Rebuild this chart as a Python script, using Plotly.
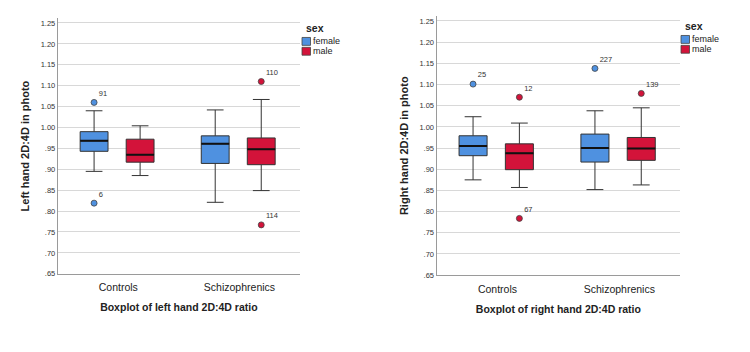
import plotly.graph_objects as go

categories = ["Controls", "Schizophrenics"]
sexes = ["female", "male"]
colors = {"female": "#4f91e0", "male": "#d3133a"}

# Left hand box statistics (Controls, Schizophrenics)
left_female_lower = [0.895, 0.821]
left_female_q1 = [0.943, 0.914]
left_female_median = [0.968, 0.961]
left_female_q3 = [0.990, 0.980]
left_female_upper = [1.040, 1.042]
left_male_lower = [0.885, 0.849]
left_male_q1 = [0.917, 0.911]
left_male_median = [0.935, 0.948]
left_male_q3 = [0.972, 0.975]
left_male_upper = [1.004, 1.067]

# Right hand box statistics
right_female_lower = [0.875, 0.852]
right_female_q1 = [0.932, 0.917]
right_female_median = [0.955, 0.950]
right_female_q3 = [0.979, 0.983]
right_female_upper = [1.024, 1.038]
right_male_lower = [0.857, 0.863]
right_male_q1 = [0.899, 0.921]
right_male_median = [0.938, 0.949]
right_male_q3 = [0.960, 0.975]
right_male_upper = [1.009, 1.045]

# Outliers
left_out_cat = ["Controls", "Controls", "Schizophrenics", "Schizophrenics"]
left_out_sex = ["female", "female", "male", "male"]
left_out_value = [1.060, 0.819, 1.110, 0.767]
left_out_id = ["91", "6", "110", "114"]

right_out_cat = ["Controls", "Schizophrenics", "Controls", "Controls", "Schizophrenics"]
right_out_sex = ["female", "female", "male", "male", "male"]
right_out_value = [1.101, 1.138, 1.070, 0.784, 1.079]
right_out_id = ["25", "227", "12", "67", "139"]

tick_vals = [0.65, 0.70, 0.75, 0.80, 0.85, 0.90, 0.95, 1.00, 1.05, 1.10, 1.15, 1.20, 1.25]
tick_text = [".65", ".70", ".75", ".80", ".85", ".90", ".95", "1.00", "1.05", "1.10", "1.15", "1.20", "1.25"]

offsets = {"female": -0.2, "male": 0.18}
box_w = 0.23

stats = {
    ("left", "female"): (left_female_lower, left_female_q1, left_female_median, left_female_q3, left_female_upper),
    ("left", "male"): (left_male_lower, left_male_q1, left_male_median, left_male_q3, left_male_upper),
    ("right", "female"): (right_female_lower, right_female_q1, right_female_median, right_female_q3, right_female_upper),
    ("right", "male"): (right_male_lower, right_male_q1, right_male_median, right_male_q3, right_male_upper),
}
outs = {
    "left": (left_out_cat, left_out_sex, left_out_value, left_out_id),
    "right": (right_out_cat, right_out_sex, right_out_value, right_out_id),
}

fig = go.Figure()
axes = {"left": ("x", "y"), "right": ("x2", "y2")}
for hand in ["left", "right"]:
    xa, ya = axes[hand]
    for sex in sexes:
        lo, q1, med, q3, up = stats[(hand, sex)]
        xs = [i + offsets[sex] for i in range(len(categories))]
        fig.add_trace(go.Box(
            x=xs, q1=q1, median=med, q3=q3, lowerfence=lo, upperfence=up,
            width=box_w, whiskerwidth=0.6, fillcolor=colors[sex],
            line=dict(color="#333333", width=1), name=sex,
            xaxis=xa, yaxis=ya, showlegend=False, hoverinfo="skip",
        ))
        # thicker median lines
        mx, my = [], []
        for i, m in enumerate(med):
            mx += [xs[i] - box_w / 2, xs[i] + box_w / 2, None]
            my += [m, m, None]
        fig.add_trace(go.Scatter(x=mx, y=my, mode="lines", line=dict(color="#111111", width=2),
                                 xaxis=xa, yaxis=ya, showlegend=False, hoverinfo="skip"))
    oc, osx, ov, oid = outs[hand]
    for sex in sexes:
        idx = [k for k in range(len(ov)) if osx[k] == sex]
        fig.add_trace(go.Scatter(
            x=[categories.index(oc[k]) + offsets[sex] for k in idx],
            y=[ov[k] for k in idx], text=[oid[k] for k in idx],
            mode="markers+text", textposition="top right",
            textfont=dict(size=7.5, color="#333333"),
            marker=dict(size=6, color=colors[sex], line=dict(color="#444444", width=0.8)),
            xaxis=xa, yaxis=ya, showlegend=False, hoverinfo="skip",
        ))

# Legends (one per panel), drawn in paper pixels
W, H = 750, 352
legend_spec = [(302, 28, 38), (681, 26, 36)]  # swatch-left x, title centre y, first swatch top y
for lx, ty, sy in legend_spec:
    fig.add_annotation(x=(lx + 2) / W, y=1 - ty / H, xref="paper", yref="paper", text="<b>sex</b>",
                       showarrow=False, xanchor="left", yanchor="middle",
                       font=dict(size=10.5, color="#222"))
    for j, sex in enumerate(sexes):
        top = sy + j * 10
        fig.add_shape(type="rect", xref="paper", yref="paper",
                      x0=lx / W, x1=(lx + 8.5) / W, y0=1 - top / H, y1=1 - (top + 8) / H,
                      fillcolor=colors[sex], line=dict(color="#444444", width=0.8))
        fig.add_annotation(x=(lx + 9) / W, y=1 - (top + 4) / H, xref="paper", yref="paper", text=sex,
                           showarrow=False, xanchor="left", yanchor="middle",
                           font=dict(size=9, color="#222"))

font = "Liberation Sans, Arial, sans-serif"
common_x = dict(range=[-0.5, 1.5], tickvals=[0, 1], ticktext=categories, showgrid=False,
                zeroline=False, showline=True, linecolor="#9a9a9a", ticks="",
                ticklabelstandoff=4, tickfont=dict(size=10.5, color="#222222"))
common_y = dict(range=[0.65, 1.261], tickvals=tick_vals, ticktext=tick_text, showgrid=True,
                gridcolor="#d8d8d8", zeroline=False, showline=True, linecolor="#9a9a9a",
                ticks="", tickfont=dict(size=7.5, color="#333333"))

fig.update_layout(
    width=W, height=H, margin=dict(l=0, r=0, t=0, b=0),
    paper_bgcolor="white", plot_bgcolor="white", font=dict(family=font),
    showlegend=False,
    xaxis=dict(domain=[0.077, 0.4], anchor="y",
               title=dict(text="<b>Boxplot of left hand 2D:4D ratio</b>", font=dict(size=10.5, color="#222"), standoff=11),
               **common_x),
    yaxis=dict(domain=[0.211, 0.947], anchor="x",
               title=dict(text="<b>Left hand 2D:4D in photo</b>", font=dict(size=11, color="#222"), standoff=8),
               **common_y),
    xaxis2=dict(domain=[0.582, 0.907], anchor="y2",
                title=dict(text="<b>Boxplot of right hand 2D:4D ratio</b>", font=dict(size=10.5, color="#222"), standoff=11),
                **common_x),
    yaxis2=dict(domain=[0.207, 0.953], anchor="x2",
                title=dict(text="<b>Right hand 2D:4D in photo</b>", font=dict(size=11, color="#222"), standoff=8),
                **common_y),
)

fig.write_html("out.html")
